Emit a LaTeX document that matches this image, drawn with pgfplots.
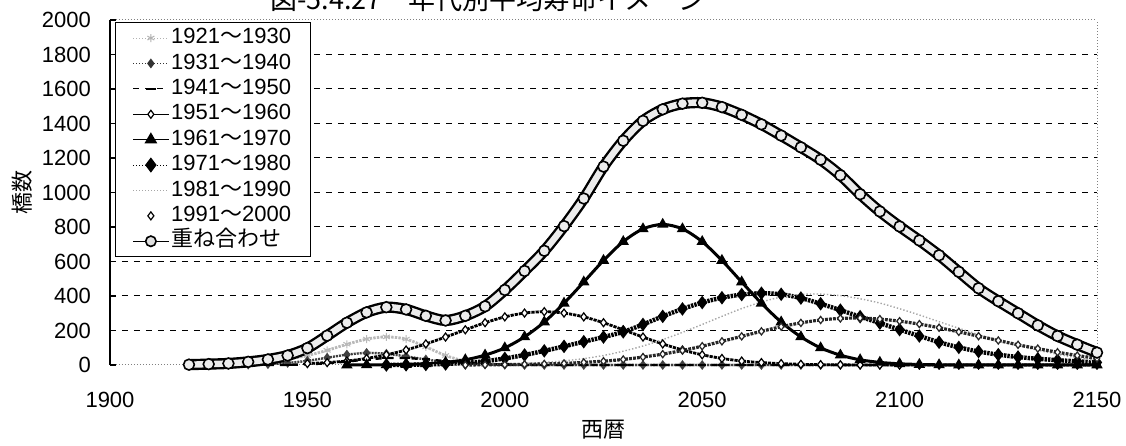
\documentclass[border=0pt]{standalone}
\usepackage{fontspec}
\setmainfont{Liberation Sans}
\newfontfamily\cjk{Noto Sans CJK JP}
\usepackage{pgfplots}
\usepackage{pgfplotstable}
\pgfplotsset{compat=1.18}

% year, one column per construction decade, S = sum (重ね合わせ)
\pgfplotstableread{
year A G1 G2 B C D E F S
1920 1 nan nan nan nan nan nan nan 2
1925 3 nan nan nan nan nan nan nan 5
1930 6 0 nan nan nan nan nan nan 9
1935 12 2 nan nan nan nan nan nan 18
1940 22 5 0 nan nan nan nan nan 32
1945 35 12 1 nan nan nan nan nan 55
1950 55 24 4 8 nan nan nan nan 98
1955 85 42 10 14 nan nan nan nan 170
1960 120 60 20 23 0 nan nan nan 245
1965 150 70 32 38 1 nan nan nan 305
1970 163 65 40 59 1 0 nan nan 335
1975 150 50 40 87 3 1 nan nan 322
1980 105 32 33 122 7 3 0 nan 285
1985 55 17 22 162 15 6 1 nan 258
1990 22 7 12 204 30 12 2 0 285
1995 8 3 6 245 57 22 3 1 340
2000 3 1 2 279 99 38 5 2 435
2005 1 0 1 301 163 58 9 4 545
2010 0 0 0 309 249 82 15 6 662
2015 0 0 0 301 358 108 24 9 805
2020 0 0 0 279 481 135 37 15 965
2025 0 0 0 245 606 162 55 22 1150
2030 0 0 0 204 715 192 80 32 1300
2035 0 0 0 162 789 235 110 46 1415
2040 0 0 0 122 815 282 147 63 1482
2045 0 0 0 87 789 325 189 84 1515
2050 0 0 0 59 715 362 235 109 1520
2055 0 0 0 38 606 390 282 137 1495
2060 0 0 0 23 481 408 327 166 1450
2065 0 0 0 14 358 416 365 195 1395
2070 0 0 0 8 249 410 394 222 1330
2075 0 0 0 4 163 388 409 244 1262
2080 0 0 0 2 99 355 411 261 1190
2085 0 0 0 1 57 318 402 270 1100
2090 0 0 0 0 30 280 384 272 990
2095 0 0 0 0 15 243 359 266 890
2100 0 0 0 0 7 205 326 254 803
2105 0 0 0 0 3 168 290 237 722
2110 0 0 0 0 1 132 251 216 636
2115 0 0 0 0 0 102 213 192 540
2120 0 0 0 0 0 78 176 167 445
2125 0 0 0 0 0 60 142 142 370
2130 0 0 0 0 0 46 112 117 300
2135 0 0 0 0 0 36 86 95 230
2140 0 0 0 0 0 28 62 74 168
2145 0 0 0 0 0 21 42 55 118
2150 0 0 0 0 0 15 24 38 72
}\lifedata

\newcommand{\yr}[2]{#1{\cjk ～}#2}

\pgfplotsset{
  leg/.style 2 args={legend image code/.code={%
    \draw[#1] (0cm,0cm) -- (0.62cm,0cm);
    \draw[#2] plot coordinates {(0.31cm,0cm)};}},
}

\begin{document}
\begin{tikzpicture}
\begin{axis}[
  scale only axis, width=493.5pt, height=172.5pt,
  at={(0pt,0pt)}, anchor=south west,
  xmin=1900, xmax=2150, ymin=0, ymax=2000,
  clip=false,
  axis x line*=bottom, axis y line*=left,
  x axis line style={draw=none},
  y axis line style={black, line width=0.7pt},
  xtick={1900,1950,...,2150},
  ytick={200,400,...,1800},
  extra y ticks={0,2000},
  extra y tick style={grid=major, major grid style={gray, densely dotted, line width=0.5pt}},
  extra x ticks={2150}, extra x tick labels={},
  extra x tick style={grid=major, major grid style={gray, densely dotted, line width=0.5pt}},
  ymajorgrids, major grid style={black, dashed, line width=0.5pt},
  tick align=inside, major tick length=3pt,
  xtick style={draw=none}, ytick style={black, line width=0.6pt},
  /pgf/number format/1000 sep={},
  /pgf/number format/assume math mode=true,
  tick label style={font=\fontsize{11}{13}\selectfont},
  yticklabel style={xshift=-6pt},
  xticklabel style={yshift=-10pt},
  xlabel={\cjk 西暦}, ylabel={\cjk 橋数},
  label style={font=\fontsize{11}{13}\selectfont},
  xlabel style={at={(axis description cs:0.5,-0.188)}, anchor=center},
  ylabel style={at={(axis description cs:-0.0892,0.5)}, anchor=center},
  legend cell align=left,
  legend style={at={(axis description cs:0.005,0.994)}, anchor=north west,
    draw=black, fill=white, line width=0.6pt,
    font=\fontsize{11}{13}\selectfont, row sep=0.3pt,
    inner xsep=8.5pt, inner ysep=1.5pt,
    nodes={text height=8pt, text depth=2.4pt, inner sep=1pt},
    /tikz/every even column/.append style={column sep=1.5pt}},
]
\addplot[smooth, gray!55, line width=1.4pt, dash pattern=on 1.2pt off 0.6pt,
  mark=asterisk, mark size=2pt, mark options={solid, line width=0.5pt},
  leg={gray!60, line width=0.5pt, densely dotted}{gray!60, line width=0.5pt, mark=asterisk, mark size=2pt, mark options={solid}}]
  table[x=year, y=A] {\lifedata};
\addlegendentry{\yr{1921}{1930}}
\addplot[smooth, black!75, line width=1.2pt, dash pattern=on 1pt off 0.5pt,
  mark=diamond*, mark size=1.5pt, mark options={solid},
  leg={black!80, line width=0.5pt, densely dotted}{black!80, mark=diamond*, mark size=1.5pt, mark options={solid}}]
  table[x=year, y=G1] {\lifedata};
\addlegendentry{\yr{1931}{1940}}
\addplot[smooth, black, line width=1.2pt, dashed,
  mark=-, mark size=2pt, mark options={solid},
  leg={black, line width=0.5pt, dashed}{black, mark=-, mark size=2.5pt, mark options={solid, line width=0.8pt}}]
  table[x=year, y=G2] {\lifedata};
\addlegendentry{\yr{1941}{1950}}
\addplot[smooth, black, line width=1.4pt, dash pattern=on 1.6pt off 0.5pt,
  mark=diamond*, mark size=2pt, mark options={solid, fill=white, line width=0.6pt},
  leg={black, line width=0.6pt, solid}{black, mark=diamond*, mark size=2pt, mark options={solid, fill=white, line width=0.6pt}}]
  table[x=year, y=B] {\lifedata};
\addlegendentry{\yr{1951}{1960}}
\addplot[smooth, black, line width=1.5pt,
  mark=triangle*, mark size=1.8pt, mark options={solid},
  leg={black, line width=0.6pt, solid}{black, mark=triangle*, mark size=2.2pt, mark options={solid}}]
  table[x=year, y=C] {\lifedata};
\addlegendentry{\yr{1961}{1970}}
\addplot[smooth, black, line width=2.2pt, dash pattern=on 1.2pt off 0.5pt,
  mark=diamond*, mark size=1.6pt, mark options={solid},
  leg={black, line width=0.5pt, densely dotted}{black, mark=diamond*, mark size=2pt, mark options={solid}}]
  table[x=year, y=D] {\lifedata};
\addlegendentry{\yr{1971}{1980}}
\addplot[smooth, gray!70, line width=0.7pt, densely dotted,
  leg={gray!70, line width=0.5pt, densely dotted}{draw=none, mark=none}]
  table[x=year, y=E] {\lifedata};
\addlegendentry{\yr{1981}{1990}}
\addplot[smooth, black!85, line width=1.6pt, dash pattern=on 1.4pt off 0.6pt,
  mark=diamond*, mark size=1.8pt, mark options={solid, fill=white, line width=0.6pt},
  leg={draw=none}{black, mark=diamond*, mark size=2pt, mark options={solid, fill=white, line width=0.6pt}}]
  table[x=year, y=F] {\lifedata};
\addlegendentry{\yr{1991}{2000}}
\addplot[forget plot, smooth, black, line width=1.2pt, double=gray!15, double distance=3.2pt]
  table[x=year, y=S] {\lifedata};
\addplot[only marks, mark=*, mark size=2.7pt,
  mark options={draw=black, fill=gray!15, line width=0.8pt},
  leg={black, line width=0.7pt, solid}{black, mark=*, mark size=2.6pt, mark options={draw=black, fill=gray!25, line width=0.8pt}}]
  table[x=year, y=S] {\lifedata};
\addlegendentry{\cjk 重ね合わせ}
\node[anchor=base, font=\cjk\fontsize{13.5}{15}\selectfont]
  at (axis description cs:0.383,1.029) {図-5.4.27　年代別平均寿命イメージ};
\end{axis}
\pgfresetboundingbox
\path[use as bounding box] ([xshift=-55pt,yshift=-40.5pt]current axis.south west)
  rectangle ([xshift=14.5pt,yshift=10pt]current axis.north east);
\end{tikzpicture}
\end{document}
